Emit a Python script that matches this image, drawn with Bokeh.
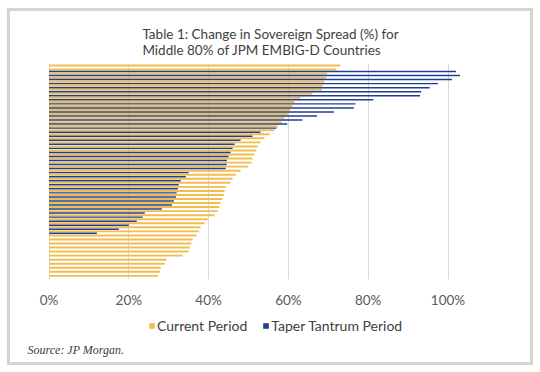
from bokeh.plotting import figure
from bokeh.layouts import column
from bokeh.models import Range1d, FixedTicker, NumeralTickFormatter, Legend, LegendItem, Label
from bokeh.embed import file_html
from bokeh.resources import INLINE

# Change in sovereign spread (%), middle 80% of JPM EMBIG-D countries, sorted
current = [73, 72, 69.7, 69.5, 69, 68.6, 68.4, 66, 63, 61.5, 61, 60.5, 60, 59,
           58.3, 57.3, 56.5, 55.3, 54, 53, 52.3, 52, 51.5, 51, 50.8, 50, 48,
           46.8, 46, 45.5, 44.4, 44, 43.8, 43.5, 43, 42.7, 42.3, 41.5, 39.8,
           39, 38, 37.6, 37, 36, 35.7, 35.3, 35, 33.5, 29.5, 29, 28, 27.8, 27.3]
taper = [None, 102, 103, 101, 97.5, 95.4, 93.3, 93, 81.3, 76.8, 76.4, 71.4,
         67.2, 63.5, 59.7, 57, 53, 51, 48, 46.5, 46, 45.5, 45, 44.6, 44.5,
         44.3, 35, 34.3, 33, 32.5, 32.3, 32, 31.8, 31.3, 30.8, 28.3, 24, 23.5,
         22, 20, 17.5, 12, None, None, None, None, None, None, None, None,
         None, None, None]
tick_values = [0, 0.2, 0.4, 0.6, 0.8, 1.0]
series_names = ["Current Period", "Taper Tantrum Period"]
title_text = "Table 1: Change in Sovereign Spread (%) for\nMiddle 80% of JPM EMBIG-D Countries"
source_text = "Source: JP Morgan."

GOLD = "#F2BD50"
BLUE = "#1F3F8F"
FRAME = "#d9d3cd"
W = 540
ZERO_PX, UNIT_PX = 48.5, 399.0   # where 0% sits and how wide 100% is

n = len(current)
rows = list(range(n))

grad = "linear-gradient(%s, %s)" % (FRAME, FRAME)

# ---- main chart (frame spans full width) ----
p = figure(width=W, height=310, output_backend="svg", toolbar_location=None,
           x_range=Range1d(-ZERO_PX / UNIT_PX, (W - ZERO_PX) / UNIT_PX),
           y_range=Range1d(n - 0.3, -0.7),
           min_border_left=0, min_border_right=0, min_border_top=63,
           min_border_bottom=26)
p.border_fill_alpha = 0
p.background_fill_alpha = 0
p.styles = {"background-image": ", ".join([grad] * 3),
            "background-position": "7px 8px, 530px 8px, 7px 8px",
            "background-size": "3px 302px, 3px 302px, 526px 3px",
            "background-repeat": "no-repeat"}

p.title.text = title_text
p.title.align = "center"
p.title.offset = -6
p.title.text_font = "Lato"
p.title.text_font_size = "13.5px"
p.title.text_font_style = "normal"
p.title.text_color = "#404040"
p.title.standoff = 12

g_y = [r - 0.2 for r in rows]
g_r = [v / 100 for v in current]
t_y = [r + 0.28 for r, v in zip(rows, taper) if v is not None]
t_r = [v / 100 for v in taper if v is not None]

p.hbar(y=g_y, left=0, right=g_r, height=0.48, fill_color=GOLD, line_color=None)
p.hbar(y=t_y, left=0, right=t_r, height=0.36, fill_color=BLUE, line_color=None)

p.xaxis.ticker = FixedTicker(ticks=tick_values)
p.xaxis.formatter = NumeralTickFormatter(format="0%")
p.xaxis.axis_line_color = None
p.xaxis.major_tick_line_color = None
p.xaxis.minor_tick_line_color = None
p.xaxis.major_label_text_font = "Lato"
p.xaxis.major_label_text_font_size = "13.5px"
p.xaxis.major_label_text_color = "#595959"
p.xaxis.major_label_standoff = 6
p.yaxis.visible = False

p.xgrid.ticker = FixedTicker(ticks=tick_values)
p.xgrid.grid_line_color = "#d9d9d9"
p.ygrid.grid_line_color = None
p.outline_line_color = None

# ---- footer with legend and source (pixel coordinates) ----
f = figure(width=W, height=62, output_backend="svg", toolbar_location=None,
           x_range=Range1d(0, W), y_range=Range1d(0, 62),
           x_axis_type=None, y_axis_type=None, min_border=0)
f.border_fill_alpha = 0
f.background_fill_alpha = 0
f.styles = {"background-image": ", ".join([grad] * 3),
            "background-position": "7px 0px, 530px 0px, 7px 52px",
            "background-size": "3px 55px, 3px 55px, 526px 3px",
            "background-repeat": "no-repeat"}
f.grid.visible = False
f.outline_line_color = None
# zero-width legend-key helpers (not visible)
lg = f.hbar(y=[-10], left=[0], right=[0], height=1, fill_color=GOLD, line_color=None)
lb = f.hbar(y=[-10], left=[0], right=[0], height=1, fill_color=BLUE, line_color=None)

legend = Legend(items=[LegendItem(label=series_names[0], renderers=[lg]),
                       LegendItem(label=series_names[1], renderers=[lb])],
                orientation="horizontal", location=(148, 38),
                glyph_width=7, glyph_height=7, label_standoff=2, spacing=15,
                padding=0, margin=0, border_line_color=None,
                background_fill_alpha=0, label_text_font="Lato",
                label_text_font_size="14px", label_text_color="#404040",
                label_height=16)
f.add_layout(legend, "center")

src = Label(x=27, y=23, text=source_text, text_font="Liberation Serif",
            text_font_style="italic", text_font_size="12px",
            text_color="#404040", text_baseline="middle")
f.add_layout(src)

layout = column(p, f, spacing=0)
open("out.html", "w").write(file_html(layout, INLINE))
